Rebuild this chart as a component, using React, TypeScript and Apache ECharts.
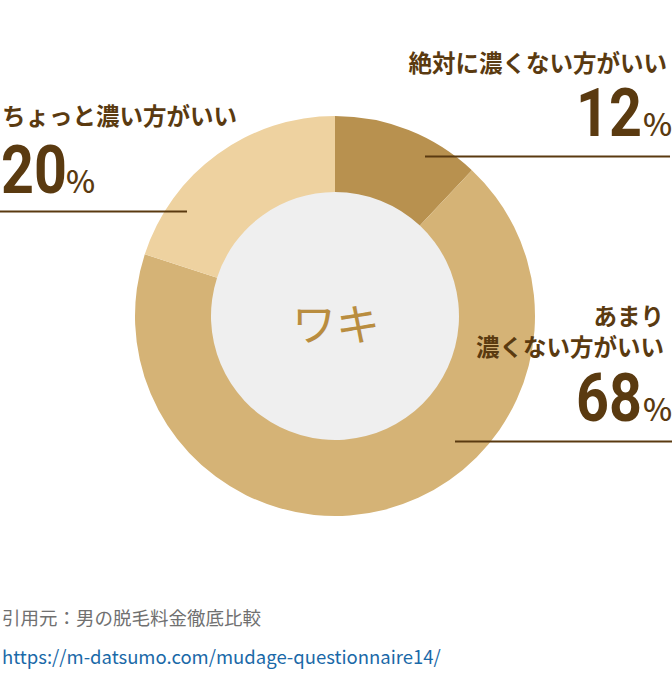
import React, { useEffect, useRef } from "react";
import * as echarts from "echarts";

const categories = ["絶対に濃くない方がいい", "あまり\n濃くない方がいい", "ちょっと濃い方がいい"];
const values = [12, 68, 20];
const centerLabel = "ワキ";
const sourceLines = ["引用元：男の脱毛料金徹底比較", "https://m-datsumo.com/mudage-questionnaire14/"];

const sliceColors = ["#b8914f", "#d5b376", "#eed2a0"];
const textColor = "#5a3a10";
const FONT = '"Noto Sans CJK JP", "Noto Sans", sans-serif';
const NUMFONT = 'Roboto, "Noto Sans", sans-serif';

// label layout (positions only); textY is the vertical centre of the label block
const layouts = [
  { align: "right", textX: 667, textY: 62, numX: 642, numY: 113.5, pctX: 643, lineY: 156.5, x1: 425, x2: 670 },
  { align: "right", textX: 664, textY: 330.5, numX: 642, numY: 398.5, pctX: 643, lineY: 441.5, x1: 455, x2: 672 },
  { align: "left", textX: 2, textY: 115, numX: 1, numY: 170.5, pctX: 66, lineY: 211.5, x1: 0, x2: 187 },
];

export default function App() {
  const ref = useRef<HTMLDivElement>(null);
  useEffect(() => {
    document.body.style.margin = "0";
    const chart = echarts.init(ref.current!, null, { renderer: "svg" });
    const graphics: any[] = [];
    graphics.push({
      type: "circle",
      shape: { cx: 335, cy: 316, r: 126 },
      style: { fill: "#efefef" },
      z: 0,
    });
    graphics.push({
      type: "text",
      x: 336,
      y: 322,
      z: 10,
      style: {
        text: centerLabel,
        font: `44px ${FONT}`,
        fill: "#b98d3f",
        align: "center",
        verticalAlign: "middle",
      },
    });
    categories.forEach((cat, i) => {
      const L: any = layouts[i];
      graphics.push({
        type: "text",
        x: L.textX,
        y: L.textY,
        z: 10,
        style: {
          text: cat,
          font: `bold 23.5px ${FONT}`,
          lineHeight: 31,
          fill: textColor,
          align: L.align,
          verticalAlign: "middle",
        },
      });
      graphics.push({
        type: "text",
        x: L.numX,
        y: L.numY,
        scaleX: 0.87,
        z: 10,
        style: {
          text: String(values[i]),
          font: `bold 66px ${NUMFONT}`,
          fill: textColor,
          align: L.align,
          verticalAlign: "middle",
        },
      });
      graphics.push({
        type: "text",
        x: L.pctX,
        y: L.numY + 9,
        z: 10,
        style: { text: "%", font: `500 31px ${FONT}`, fill: textColor, align: "left", verticalAlign: "middle" },
      });
      graphics.push({
        type: "line",
        z: 10,
        shape: { x1: L.x1, y1: L.lineY, x2: L.x2, y2: L.lineY },
        style: { stroke: textColor, lineWidth: 2 },
      });
    });
    graphics.push({
      type: "text", x: 2, y: 617, z: 10,
      style: { text: sourceLines[0], font: `18.5px ${FONT}`, fill: "#707070", align: "left", verticalAlign: "middle" },
    });
    graphics.push({
      type: "text", x: 2, y: 656, z: 10,
      style: { text: sourceLines[1], font: `18.5px ${FONT}`, fill: "#1a69a8", align: "left", verticalAlign: "middle" },
    });

    chart.setOption({
      animation: false,
      backgroundColor: "#ffffff",
      graphic: { elements: graphics },
      series: [
        {
          type: "pie",
          center: [335, 316],
          radius: [124, 200],
          startAngle: 90,
          clockwise: true,
          silent: true,
          label: { show: false },
          labelLine: { show: false },
          itemStyle: { borderWidth: 0 },
          data: values.map((v, i) => ({
            name: categories[i],
            value: v,
            itemStyle: { color: sliceColors[i] },
          })),
        },
      ],
    });
    return () => chart.dispose();
  }, []);
  return <div ref={ref} style={{ width: 672, height: 674 }} />;
}
